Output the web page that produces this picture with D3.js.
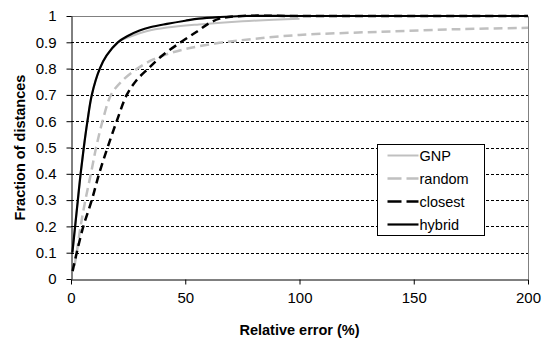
<!DOCTYPE html>
<html>
<head>
<meta charset="utf-8">
<script src="https://cdn.jsdelivr.net/npm/d3@7"></script>
<style>
  body { margin: 0; background: #fff; }
  svg { display: block; font-family: Arial, "Liberation Sans", Helvetica, sans-serif; }
</style>
</head>
<body>
<div class="chart"></div>
<script>
// values (relative error %, fraction of distances)
const gnpX = [0.6, 1.8, 3.0, 4.2, 5.6, 7.2, 9.1, 12.6, 15.6, 20.5, 26, 33, 42, 56, 75, 100];
const gnpY = [0.1, 0.2, 0.3, 0.4, 0.5, 0.6, 0.7, 0.8, 0.85, 0.9, 0.922, 0.942, 0.956, 0.968, 0.98, 0.99];

const randomX = [1.5, 2.5, 4.2, 6.3, 8.7, 11.0, 13.8, 17.5, 22, 29, 36, 43, 52, 65, 80, 100, 135, 170, 200];
const randomY = [0.05, 0.1, 0.2, 0.3, 0.4, 0.5, 0.6, 0.7, 0.75, 0.8, 0.835, 0.858, 0.878, 0.898, 0.913, 0.928, 0.94, 0.95, 0.955];

const closestX = [0.7, 2.5, 5.4, 9.1, 12.3, 16, 20, 24.4, 28.6, 33.8, 40, 48, 55, 60, 65, 75, 100, 200];
const closestY = [0.03, 0.1, 0.2, 0.3, 0.4, 0.5, 0.6, 0.7, 0.755, 0.8, 0.85, 0.9, 0.94, 0.97, 0.99, 1, 1, 1];

const hybridX = [0.6, 1.8, 3.0, 4.2, 5.6, 7.2, 9.1, 12.6, 15.6, 20.5, 25, 30, 35, 42, 50, 56, 65, 75, 100, 150, 200];
const hybridY = [0.1, 0.2, 0.3, 0.4, 0.5, 0.6, 0.7, 0.8, 0.85, 0.9, 0.925, 0.945, 0.958, 0.97, 0.982, 0.99, 0.996, 1, 1, 1, 1];

const seriesNames = ["GNP", "random", "closest", "hybrid"];
const xTicks = [0, 50, 100, 150, 200];
const yTicks = [0, 0.1, 0.2, 0.3, 0.4, 0.5, 0.6, 0.7, 0.8, 0.9, 1];

const width = 553;
const height = 340;
const margin = { top: 16, right: 25, bottom: 61, left: 71 };

const series = [
  { name: "GNP", xs: gnpX, ys: gnpY, color: "#c0c0c0", dash: null, w: 2 },
  { name: "random", xs: randomX, ys: randomY, color: "#c0c0c0", dash: "9,5", w: 2.5 },
  { name: "closest", xs: closestX, ys: closestY, color: "#000", dash: "8,5", w: 2.5 },
  { name: "hybrid", xs: hybridX, ys: hybridY, color: "#000", dash: null, w: 2.2 }
];

const x = d3.scaleLinear().domain([0, 200]).range([margin.left, width - margin.right]);
const y = d3.scaleLinear().domain([0, 1]).range([height - margin.bottom, margin.top]);

const svg = d3.select(".chart").append("svg")
  .attr("width", width)
  .attr("height", height);

svg.append("rect").attr("width", width).attr("height", height).attr("fill", "#fff");

// dashed gridlines
svg.append("g")
  .selectAll("line")
  .data(yTicks.filter(d => d > 0 && d < 1))
  .enter()
  .append("line")
  .attr("x1", x(0))
  .attr("x2", x(200))
  .attr("y1", d => Math.round(y(d)) + 0.5)
  .attr("y2", d => Math.round(y(d)) + 0.5)
  .attr("stroke", "#000")
  .attr("stroke-width", 1)
  .attr("stroke-dasharray", "3,2");

// plot frame (top / right)
svg.append("path")
  .attr("d", `M${x(0)},${Math.round(y(1)) + 0.5}H${Math.round(x(200)) + 0.5}V${y(0)}`)
  .attr("fill", "none")
  .attr("stroke", "#808080")
  .attr("stroke-width", 1);

const line = d3.line()
  .x(d => x(d[0]))
  .y(d => y(d[1]))
  .curve(d3.curveCatmullRom.alpha(0.5));

svg.append("g")
  .selectAll("path")
  .data(series)
  .enter()
  .append("path")
  .attr("d", s => line(s.xs.map((v, i) => [v, s.ys[i]])))
  .attr("fill", "none")
  .attr("stroke", s => s.color)
  .attr("stroke-width", s => s.w)
  .attr("stroke-dasharray", s => s.dash);

// axes
const xAxis = svg.append("g")
  .attr("transform", `translate(0,${Math.round(y(0)) + 0.5})`)
  .call(d3.axisBottom(x).tickValues(xTicks).tickSize(5).tickSizeOuter(0).tickPadding(8));

const yAxis = svg.append("g")
  .attr("transform", `translate(${Math.round(x(0)) + 0.5},0)`)
  .call(d3.axisLeft(y).tickValues(yTicks).tickSize(5).tickSizeOuter(0).tickPadding(10)
    .tickFormat(d => d3.format("~g")(d)));

[xAxis, yAxis].forEach(g => {
  g.select(".domain").attr("stroke", "#000");
  g.selectAll(".tick line").attr("stroke", "#000");
  g.selectAll("text")
    .attr("fill", "#000")
    .style("font-size", "15px")
    .style("font-family", "Arial, 'Liberation Sans', sans-serif");
});

// axis titles
svg.append("text")
  .attr("x", (x(0) + x(200)) / 2)
  .attr("y", 335)
  .attr("text-anchor", "middle")
  .style("font-size", "14.5px")
  .style("font-weight", "bold")
  .text("Relative error (%)");

svg.append("text")
  .attr("transform", `translate(25,${(y(0) + y(1)) / 2}) rotate(-90)`)
  .attr("text-anchor", "middle")
  .style("font-size", "14.5px")
  .style("font-weight", "bold")
  .text("Fraction of distances");

// legend
const legend = svg.append("g").attr("transform", "translate(377.5,144.5)");
legend.append("rect")
  .attr("width", 107)
  .attr("height", 91)
  .attr("fill", "#fff")
  .attr("stroke", "#000")
  .attr("stroke-width", 1);

const item = legend.selectAll("g.item")
  .data(seriesNames.map(n => series.find(s => s.name === n)))
  .enter()
  .append("g")
  .attr("class", "item")
  .attr("transform", (d, i) => `translate(0,${11 + i * 23})`);

item.append("line")
  .attr("x1", 10)
  .attr("x2", 41)
  .attr("stroke", d => d.color)
  .attr("stroke-width", d => d.w)
  .attr("stroke-dasharray", d => d.dash ? "14,5" : null);

item.append("text")
  .attr("x", 42)
  .attr("dy", "0.35em")
  .style("font-size", "14.5px")
  .text(d => d.name);
</script>
</body>
</html>
